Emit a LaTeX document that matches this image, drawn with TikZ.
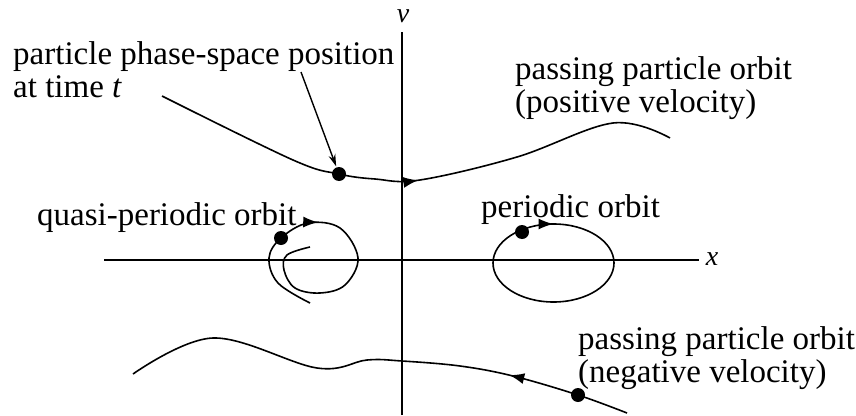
\documentclass[tikz,border=0pt]{standalone}
\usepackage{fontspec}
\setmainfont{Liberation Serif}
\usetikzlibrary{arrows.meta,decorations.markings}

\tikzset{
  lbl/.style={font=\fontsize{33}{32.5}\selectfont, inner sep=0pt, anchor=base west, align=left},
  axlbl/.style={font=\fontsize{28}{28}\selectfont\itshape, inner sep=0pt, text height=13pt, text depth=0pt, anchor=base},
  orbit/.style={line width=1.6pt},
  axis/.style={line width=1.4pt},
  pdot/.style={circle, fill=black, inner sep=0pt, minimum size=14pt},
  pointer/.style={line width=1.4pt, -{Stealth[length=12pt,width=7pt]}, shorten >=1pt},
  flowtip/.style={postaction={decorate}, decoration={markings, mark=at position #1 with {\arrow{Latex[length=15pt,width=11pt]}}}},
}

\begin{document}
\begin{tikzpicture}[x=1pt,y=-1pt]
        \useasboundingbox (0,0) rectangle (856,415);
        % axes
        \coordinate (xl) at (104,260);
        \coordinate (xr) at (699,260);
        \coordinate (vb) at (402,415);
        \coordinate (vt) at (402,32);
        \draw[axis] (xl) -- (xr);
        \draw[axis] (vb) -- (vt);
        \node[axlbl] (xlab) at (712,265) {x};
        \node[axlbl] (vlab) at (403,23) {v};
        % particle positions
        \coordinate (ptop) at (339,174);
        \coordinate (pbot) at (578,395);
        \coordinate (pquasi) at (281,238);
        \coordinate (pper) at (522,232);
        % orbits
        \draw[orbit, flowtip=0.51] plot[smooth, tension=0.6] coordinates
          {(162,96) (293,160) (ptop) (375,179) (420,180) (517,157) (613,123) (670,138)};
        \draw[orbit, flowtip=0.24] plot[smooth, tension=0.6] coordinates
          {(627,413) (pbot) (513,376) (460,366) (402,361) (367,360) (317,368) (213,338) (133,374)};
        \draw[orbit, flowtip=0.39] plot[smooth, tension=0.6] coordinates
          {(310,303) (278,283) (269,258) (pquasi) (308,223) (340,228) (358,258) (345,285)
           (320,293) (295,288) (284,270) (287,255) (310,247)};
        \draw[orbit, flowtip=0.75] (553.5,263) ellipse [x radius=60.5, y radius=39];
        % dots
        \node[pdot] (dtop) at (ptop) {};
        \node[pdot] (dbot) at (pbot) {};
        \node[pdot] (dquasi) at (pquasi) {};
        \node[pdot] (dper) at (pper) {};
        % labels
        \node[lbl] (postxt) at (13,97) {particle phase-space position\\at time \textit{t}};
        \node[lbl] (pastop) at (515,112) {passing particle orbit\\(positive velocity)};
        \node[lbl] (pasbot) at (578,382) {passing particle orbit\\(negative velocity)};
        \node[lbl] (qptxt) at (37,225) {quasi-periodic orbit};
        \node[lbl] (ptxt) at (481,217) {periodic orbit};
        \coordinate (ptrtail) at (301,72);
        \draw[pointer] (ptrtail) -- (dtop);
\end{tikzpicture}
\end{document}
